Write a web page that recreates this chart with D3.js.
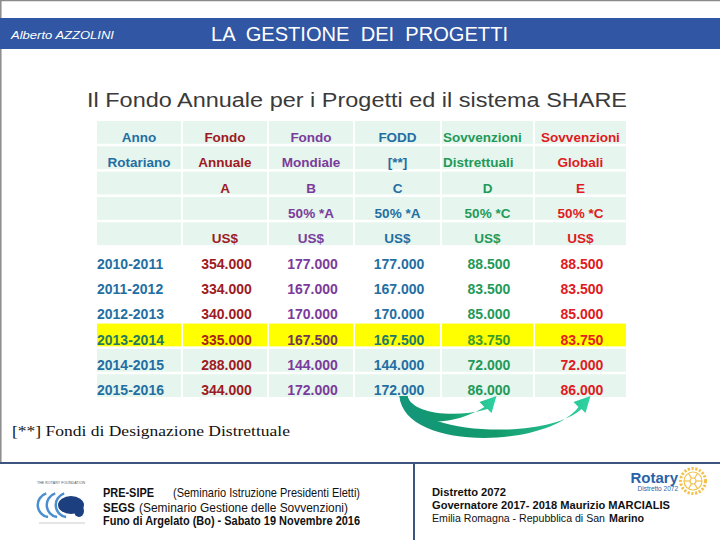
<!DOCTYPE html>
<html>
<head>
<meta charset="utf-8">
<script src="https://cdn.jsdelivr.net/npm/d3@7"></script>
<style>
body { margin: 0; background: #fff; }
svg { display: block; font-family: "Liberation Sans", Arial, sans-serif; }
</style>
</head>
<body>
<div class="slide"></div>
<script>
// Intestazione della tabella (5 righe)
var intestazione1 = ["Anno", "Fondo", "Fondo", "FODD", "Sovvenzioni", "Sovvenzioni"];
var intestazione2 = ["Rotariano", "Annuale", "Mondiale", "[**]", "Distrettuali", "Globali"];
var lettere = ["", "A", "B", "C", "D", "E"];
var formule = ["", "", "50% *A", "50% *A", "50% *C", "50% *C"];
var valute = ["", "US$", "US$", "US$", "US$", "US$"];

// Dati per anno rotariano
var anni = ["2010-2011", "2011-2012", "2012-2013", "2013-2014", "2014-2015", "2015-2016"];
var fondoAnnuale = [354000, 334000, 340000, 335000, 288000, 344000];
var fondoMondiale = [177000, 167000, 170000, 167500, 144000, 172000];
var fodd = [177000, 167000, 170000, 167500, 144000, 172000];
var sovvDistrettuali = [88500, 83500, 85000, 83750, 72000, 86000];
var sovvGlobali = [88500, 83500, 85000, 83750, 72000, 86000];
var annoEvidenziato = "2013-2014";
var anniVerdi = ["2014-2015", "2015-2016"];

// colori (stile)
var coloriColonne = ["#1f6fa3", "#9e1a22", "#7b3b9b", "#1f6fa3", "#1f9a58", "#e01a22"];
var coloriEvidenziati = ["#237a60", "#a82418", "#6e3a55", "#1a7a6e", "#3c9c2c", "#e42020"];
var menta = "#e6f5ee";

var W = 720, H = 540;
var it = d3.formatLocale({decimal: ",", thousands: ".", grouping: [3], currency: ["", ""]});
var fmt = it.format(",.0f");

var svg = d3.select(".slide").append("svg")
    .attr("width", W).attr("height", H);

// bordi della slide
svg.append("line").attr("x1", 0).attr("x2", W).attr("y1", 0.5).attr("y2", 0.5)
    .attr("stroke", "#8a8a8a").attr("stroke-width", 1.5);
svg.append("line").attr("x1", 0.8).attr("x2", 0.8).attr("y1", 0).attr("y2", 462)
    .attr("stroke", "#8a8a8a").attr("stroke-width", 1.5);

// barra del titolo
svg.append("rect").attr("x", 0).attr("y", 18).attr("width", W).attr("height", 31)
    .attr("fill", "#3156a3");
svg.append("text").attr("x", 11).attr("y", 38.5)
    .attr("font-size", 11.5).attr("font-style", "italic").attr("fill", "#fff")
    .attr("textLength", 103).attr("lengthAdjust", "spacingAndGlyphs")
    .text("Alberto  AZZOLINI");
svg.append("text").attr("x", 211).attr("y", 41)
    .attr("font-size", 19.5).attr("fill", "#fff")
    .attr("textLength", 297).attr("lengthAdjust", "spacingAndGlyphs")
    .style("white-space", "pre")
    .text("LA  GESTIONE  DEI  PROGETTI");

// titolo
svg.append("text").attr("x", 87).attr("y", 107)
    .attr("font-size", 20).attr("fill", "#3a3a3a")
    .attr("textLength", 540).attr("lengthAdjust", "spacingAndGlyphs")
    .text("Il Fondo Annuale per i Progetti ed il sistema SHARE");

// righe della tabella
var righe = [intestazione1, intestazione2, lettere, formule, valute].map(function(r) {
    return {tipo: "testa", celle: r};
});
anni.forEach(function(a, i) {
    righe.push({
        tipo: a === annoEvidenziato ? "giallo" : (anniVerdi.indexOf(a) >= 0 ? "menta" : "bianco"),
        celle: [a, fmt(fondoAnnuale[i]), fmt(fondoMondiale[i]), fmt(fodd[i]),
                fmt(sovvDistrettuali[i]), fmt(sovvGlobali[i])]
    });
});

var x = d3.scaleLinear().domain(d3.range(7)).range([97, 183, 269, 355, 442, 535, 628]);
var y = d3.scaleBand().domain(d3.range(righe.length)).range([121, 397]).paddingInner(0.1);
var cx = function(c) { return (x(c) + x(c + 1) - 2) / 2; };

var tabella = svg.append("g").attr("class", "tabella");

var riga = tabella.selectAll(".riga")
    .data(righe)
  .enter()
    .append("g")
    .attr("class", "riga")
    .attr("transform", function(d, i) { return "translate(0," + y(i) + ")"; });

riga.filter(function(d) { return d.tipo !== "bianco"; })
    .selectAll("rect")
    .data(function(d) { return d.celle.map(function(v, c) { return {tipo: d.tipo, c: c}; }); })
  .enter()
    .append("rect")
    .attr("x", function(d) { return x(d.c); })
    .attr("width", function(d) { return x(d.c + 1) - x(d.c) - 2; })
    .attr("height", y.bandwidth())
    .attr("fill", function(d) { return d.tipo === "giallo" ? "#ffff00" : menta; });

riga.selectAll("text")
    .data(function(d, i) {
        return d.celle.map(function(v, c) { return {v: v, c: c, tipo: d.tipo, r: i}; });
    })
  .enter()
    .append("text")
    .attr("y", 21)
    .attr("font-weight", "bold")
    .attr("font-size", function(d) { return d.tipo === "testa" ? 13.5 : 14; })
    .attr("fill", function(d) {
        return d.tipo === "giallo" ? coloriEvidenziati[d.c] : coloriColonne[d.c];
    })
    .attr("text-anchor", function(d) {
        if (d.c === 0 && d.tipo !== "testa") return "start";
        if (d.c === 4 && d.tipo === "testa" && d.r < 2) return "start";
        return "middle";
    })
    .attr("x", function(d) {
        if (d.c === 0 && d.tipo !== "testa") return x(0);
        if (d.c === 4 && d.tipo === "testa" && d.r < 2) return x(4) + 1;
        return cx(d.c) + (d.tipo === "testa" ? 0 : 1.5);
    })
    .text(function(d) { return d.v; });

// frecce FODD -> sovvenzioni
var defs = svg.append("defs");
var grad = defs.append("linearGradient").attr("id", "verde")
    .attr("x1", "0").attr("y1", "0").attr("x2", "1").attr("y2", "0");
grad.append("stop").attr("offset", "0").attr("stop-color", "#13967a");
grad.append("stop").attr("offset", "0.5").attr("stop-color", "#139a6c");
grad.append("stop").attr("offset", "1").attr("stop-color", "#2fd3a3");

var yb = y(righe.length - 1) + y.bandwidth();
var x0 = cx(3) + 6;
function freccia(xt, fondo) {
    var p = d3.path();
    p.moveTo(x0 - 4, yb - 1);
    p.bezierCurveTo(x0, yb + fondo + 12, xt - 40, yb + fondo + 10, xt - 8, yb + 10);
    p.lineTo(xt - 13, yb + 5);
    p.lineTo(xt + 4, yb - 1);
    p.lineTo(xt - 1, yb + 16);
    p.lineTo(xt - 5, yb + 12);
    p.bezierCurveTo(xt - 40, yb + fondo + 2, x0 + 8, yb + fondo - 4, x0 + 4, yb - 1);
    p.closePath();
    svg.append("path").attr("d", p.toString()).attr("fill", "url(#verde)");
}
freccia(cx(4) + 5, 20);
freccia(cx(5) + 6, 42);

// nota
svg.append("text").attr("x", 12).attr("y", 436)
    .attr("font-family", "'Liberation Serif', 'DejaVu Serif', serif")
    .attr("font-size", 15.5).attr("fill", "#111")
    .attr("textLength", 278).attr("lengthAdjust", "spacingAndGlyphs")
    .text("[**] Fondi di Designazione Distrettuale");

// piè di pagina
svg.append("line").attr("x1", 0).attr("x2", W).attr("y1", 463).attr("y2", 463)
    .attr("stroke", "#3b5580").attr("stroke-width", 2);
svg.append("line").attr("x1", 414).attr("x2", 414).attr("y1", 463).attr("y2", H)
    .attr("stroke", "#3b5580").attr("stroke-width", 2);

var narrow = "'Liberation Sans Narrow', 'Arial Narrow', 'Liberation Sans', sans-serif";
function scritta(xx, yy, size, w, testo, grassetto) {
    svg.append("text").attr("x", xx).attr("y", yy)
        .attr("font-family", narrow).attr("font-size", size).attr("fill", "#111")
        .attr("font-weight", grassetto ? "bold" : "normal")
        .attr("textLength", w).attr("lengthAdjust", "spacingAndGlyphs")
        .text(testo);
}
scritta(103, 497, 13, 51, "PRE-SIPE", true);
scritta(173, 497, 13, 187, "(Seminario Istruzione Presidenti Eletti)", false);
scritta(103, 512, 13, 32, "SEGS", true);
scritta(139, 512, 13, 209, "(Seminario Gestione delle Sovvenzioni)", false);
scritta(103, 524.5, 12, 257, "Funo di Argelato (Bo) - Sabato 19 Novembre 2016", true);

scritta(432, 496, 11.5, 74, "Distretto 2072", true);
scritta(432, 508.5, 11.5, 238, "Governatore 2017- 2018  Maurizio MARCIALIS", true);
scritta(432, 521.5, 11, 173, "Emilia Romagna - Repubblica di San", false);
scritta(609, 521.5, 11, 35, "Marino", true);

// logo Rotary
svg.append("text").attr("x", 678).attr("y", 483).attr("text-anchor", "end")
    .attr("font-size", 15).attr("font-weight", "bold").attr("fill", "#2a62a8")
    .text("Rotary");
svg.append("text").attr("x", 678).attr("y", 491).attr("text-anchor", "end")
    .attr("font-size", 6.5).attr("fill", "#2a62a8")
    .text("Distretto  2072");
var ruota = svg.append("g").attr("transform", "translate(693,481)");
ruota.append("circle").attr("r", 12.5).attr("fill", "none")
    .attr("stroke", "#f3c14a").attr("stroke-width", 3).attr("stroke-dasharray", "2.2 1.6");
ruota.append("circle").attr("r", 9).attr("fill", "none")
    .attr("stroke", "#f3c14a").attr("stroke-width", 1.2);
ruota.append("circle").attr("r", 3).attr("fill", "none")
    .attr("stroke", "#f3c14a").attr("stroke-width", 1.2);
d3.range(6).forEach(function(k) {
    var a = k * Math.PI / 3;
    ruota.append("line").attr("x1", 3 * Math.cos(a)).attr("y1", 3 * Math.sin(a))
        .attr("x2", 9 * Math.cos(a)).attr("y2", 9 * Math.sin(a))
        .attr("stroke", "#f3c14a").attr("stroke-width", 1.2);
});

// logo Rotary Foundation
var fond = svg.append("g").attr("transform", "translate(37,481)");
fond.append("text").attr("x", 0).attr("y", 3).attr("font-size", 3.5).attr("fill", "#555")
    .attr("textLength", 48).text("THE ROTARY FOUNDATION");
var arco = d3.arc();
[[14, 0], [22, 9], [30, 18]].forEach(function(a) {
    fond.append("path")
        .attr("transform", "translate(" + (a[1] + 13) + ",24)")
        .attr("d", arco({innerRadius: 11, outerRadius: 13.5,
                         startAngle: -Math.PI * 0.95, endAngle: -Math.PI * 0.1}))
        .attr("fill", "#4a8fd0");
});
fond.append("ellipse").attr("cx", 34).attr("cy", 24).attr("rx", 13).attr("ry", 9)
    .attr("fill", "#1c3f80");
fond.append("ellipse").attr("cx", 42).attr("cy", 30).attr("rx", 5).attr("ry", 6)
    .attr("fill", "#1c3f80");
fond.append("line").attr("x1", 2).attr("x2", 48).attr("y1", 42).attr("y2", 42)
    .attr("stroke", "#aaa").attr("stroke-width", 0.6);
</script>
</body>
</html>
